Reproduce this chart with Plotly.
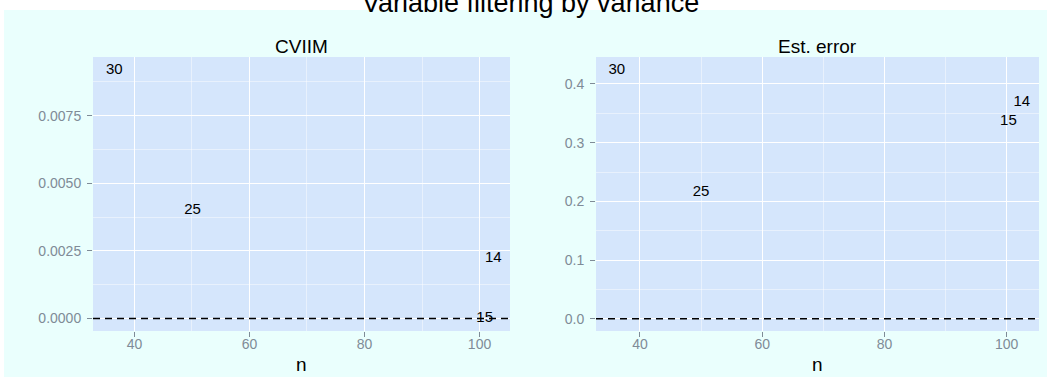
import plotly.graph_objects as go

# ---- data ----
cviim_n = [36.5, 50.1, 102.4, 100.9]
cviim_val = [0.00917, 0.0040, 0.00222, 0.0]
cviim_lab = ["30", "25", "14", "15"]

err_n = [36.2, 50.0, 102.5, 100.3]
err_val = [0.424, 0.216, 0.369, 0.336]
err_lab = ["30", "25", "14", "15"]

x_ticks = [40, 60, 80, 100]
y1_ticks = [0.0, 0.0025, 0.005, 0.0075]
y1_text = ["0.0000", "0.0025", "0.0050", "0.0075"]
y2_ticks = [0.0, 0.1, 0.2, 0.3, 0.4]
y2_text = ["0.0", "0.1", "0.2", "0.3", "0.4"]

W, H = 1050, 378
L, R, T, B = 93, 11, 57, 47
PW = W - L - R
PH = H - T - B


def px(x):
    return (x - L) / PW


def py(y):
    return (H - B - y) / PH


FONT = "Liberation Sans, Arial, sans-serif"
TICKC = "#7F8B97"
PANEL = "#D5E6FC"
OUTER = "#EAFFFD"

fig = go.Figure()
fig.add_trace(go.Scatter(x=cviim_n, y=cviim_val, text=cviim_lab, mode="text",
                         textfont=dict(size=15, color="black", family=FONT),
                         xaxis="x", yaxis="y", showlegend=False, hoverinfo="skip"))
fig.add_trace(go.Scatter(x=err_n, y=err_val, text=err_lab, mode="text",
                         textfont=dict(size=15, color="black", family=FONT),
                         xaxis="x2", yaxis="y2", showlegend=False, hoverinfo="skip"))

xcommon = dict(range=[32.8, 105.3], tickvals=x_ticks, ticks="outside", ticklen=5,
               tickcolor=TICKC, tickwidth=1, tickfont=dict(size=14, color=TICKC, family=FONT),
               ticklabelstandoff=-5,
               showgrid=True, gridcolor="white", gridwidth=1.2, zeroline=False,
               showline=False,
               minor=dict(tickvals=[50, 70, 90], showgrid=True,
                          gridcolor="rgba(255,255,255,0.45)", gridwidth=0.8, ticks=""))

ycommon = dict(ticks="outside", ticklen=5, tickcolor=TICKC,
               tickfont=dict(size=14, color=TICKC, family=FONT),
               ticklabelstandoff=3,
               showgrid=True, gridcolor="white", gridwidth=1.2, zeroline=False)

fig.update_layout(
    width=W, height=H,
    margin=dict(l=L, r=R, t=T, b=B),
    paper_bgcolor=OUTER,
    plot_bgcolor=PANEL,
    xaxis=dict(domain=[0, px(510)], anchor="y", **xcommon),
    xaxis2=dict(domain=[px(596), 1], anchor="y2", **xcommon),
    yaxis=dict(range=[-0.00046, 0.00967], tickvals=y1_ticks, ticktext=y1_text,
               minor=dict(tickvals=[0.00125, 0.00375, 0.00625, 0.00875], showgrid=True,
                          gridcolor="rgba(255,255,255,0.45)", gridwidth=0.8, ticks=""),
               anchor="x", **ycommon),
    yaxis2=dict(range=[-0.021, 0.446], tickvals=y2_ticks, ticktext=y2_text,
                minor=dict(tickvals=[0.05, 0.15, 0.25, 0.35], showgrid=True,
                           gridcolor="rgba(255,255,255,0.45)", gridwidth=0.8, ticks=""),
                anchor="x2", **ycommon),
    showlegend=False,
)

# white border strips around the light outer background
for (x0, x1, y0, y1) in [(0, W, 0, 10), (0, 4, 0, H), (1047, W, 0, H), (0, W, 377, H)]:
    fig.add_shape(type="rect", xref="paper", yref="paper",
                  x0=px(x0), x1=px(x1), y0=py(y1), y1=py(y0),
                  fillcolor="white", line=dict(width=0), layer="below")

# dashed reference lines at zero
for xr, yr in [("x domain", "y"), ("x2 domain", "y2")]:
    fig.add_shape(type="line", xref=xr, yref=yr, x0=0, x1=1, y0=0, y1=0,
                  line=dict(color="black", width=1.4, dash="7px,5px"), layer="above")

# titles
fig.add_annotation(text="Variable filtering by variance", xref="paper", yref="paper",
                   x=px(530), y=py(3), xanchor="center", yanchor="middle", showarrow=False,
                   font=dict(size=27, color="black", family=FONT))
fig.add_annotation(text="CVIIM", xref="paper", yref="paper",
                   x=px((93 + 510) / 2), y=py(46), xanchor="center", yanchor="middle",
                   showarrow=False, font=dict(size=19, color="black", family=FONT))
fig.add_annotation(text="Est. error", xref="paper", yref="paper",
                   x=px((596 + 1039) / 2), y=py(46), xanchor="center", yanchor="middle",
                   showarrow=False, font=dict(size=19, color="black", family=FONT))
for cx in [(93 + 510) / 2, (596 + 1039) / 2]:
    fig.add_annotation(text="n", xref="paper", yref="paper",
                       x=px(cx), y=py(364), xanchor="center", yanchor="middle",
                       showarrow=False, font=dict(size=19, color="black", family=FONT))

fig.write_html("out.html")
